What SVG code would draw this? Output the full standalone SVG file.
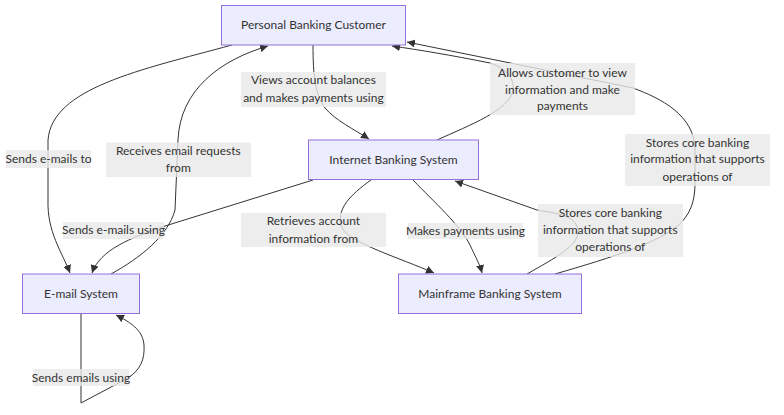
<svg xmlns="http://www.w3.org/2000/svg" width="784" height="415" viewBox="0 0 784 415">
<defs>
<marker id="arr" viewBox="0 0 10 10" refX="10" refY="5" markerWidth="8" markerHeight="8" markerUnits="userSpaceOnUse" orient="auto">
<path d="M0,0 L10,5 L0,10 z" fill="#333"/>
</marker>
<style>
.node rect{fill:#ECECFF;stroke:#9370DB;stroke-width:1}
text{font-family:"Lato","Liberation Sans",sans-serif;font-size:12px;fill:#333;text-anchor:middle}
.edges path{fill:none;stroke:#333;stroke-width:1;marker-end:url(#arr)}
.lbl rect{fill:#e8e8e8;fill-opacity:0.8}
</style>
</defs>
<rect width="784" height="415" fill="#fff"/>
<g class="edges">
<path d="M232,45 C140,70 52,88 48,140 L48,200 C47,232 62,252 70,273"/>
<path d="M111,274 C140,258 168,236 175,210 L178,140 C180,90 220,60 268,46"/>
<path d="M313,45 C313,75 315,95 325,108 C335,120 355,130 369,139"/>
<path d="M437,140 C470,125 510,110 513,90 C515,75 500,66 490,63 C450,55 420,50 392,46"/>
<path d="M555,274 C610,258 670,240 685,218 C695,205 695,190 695,180 L695,150 C695,115 660,98 633,88 L407,42"/>
<path d="M313,180 L165,226 C130,238 100,250 92,273"/>
<path d="M371,180 C350,195 335,210 342,228 C350,243 400,258 434,273"/>
<path d="M413,180 C435,203 460,225 470,245 C476,258 480,265 482,273"/>
<path d="M527,274 C555,258 580,245 578,230 C576,215 555,213 537,210 L455,181"/>
<path d="M81,314 L81,403 L128,378 C140,370 145,360 144,345 C143,330 130,322 116,315"/>
</g>
<g class="lbl">
<rect x="6" y="150" width="85" height="18"/><text x="48.5" y="163">Sends e-mails to</text>
<rect x="106" y="142.5" width="145" height="34.5"/><text x="178.3" y="155">Receives email requests</text><text x="178.3" y="172">from</text>
<rect x="241" y="72" width="145" height="35"/><text x="313.4" y="84">Views account balances</text><text x="313.4" y="102">and makes payments using</text>
<rect x="490" y="63" width="145" height="52"/><text x="562.5" y="76.5">Allows customer to view</text><text x="562.5" y="93.5">information and make</text><text x="562.5" y="110">payments</text>
<rect x="625" y="134" width="145" height="52"/><text x="697.5" y="146.5">Stores core banking</text><text x="697.5" y="163">information that supports</text><text x="697.5" y="180.5">operations of</text>
<rect x="63" y="222" width="101" height="17"/><text x="113.5" y="234">Sends e-mails using</text>
<rect x="241" y="213" width="145" height="34"/><text x="313.4" y="225">Retrieves account</text><text x="313.4" y="242.5">information from</text>
<rect x="408" y="223" width="115" height="16"/><text x="465.5" y="234.5">Makes payments using</text>
<rect x="538" y="204" width="145" height="53"/><text x="610.3" y="216.7">Stores core banking</text><text x="610.3" y="234">information that supports</text><text x="610.3" y="250.7">operations of</text>
<rect x="33" y="369" width="96" height="17"/><text x="81" y="381.5">Sends emails using</text>
</g>
<g id="customer" class="node"><rect x="221.5" y="5.5" width="184" height="39.5"/><text x="313.5" y="29">Personal Banking Customer</text></g>
<g id="internet" class="node"><rect x="308.5" y="140" width="170" height="39.5"/><text x="393.5" y="163.5">Internet Banking System</text></g>
<g id="email" class="node"><rect x="22.5" y="274" width="117" height="39.5"/><text x="81" y="298">E-mail System</text></g>
<g id="mainframe" class="node"><rect x="398.5" y="274" width="183" height="39.5"/><text x="490" y="298">Mainframe Banking System</text></g>
</svg>
